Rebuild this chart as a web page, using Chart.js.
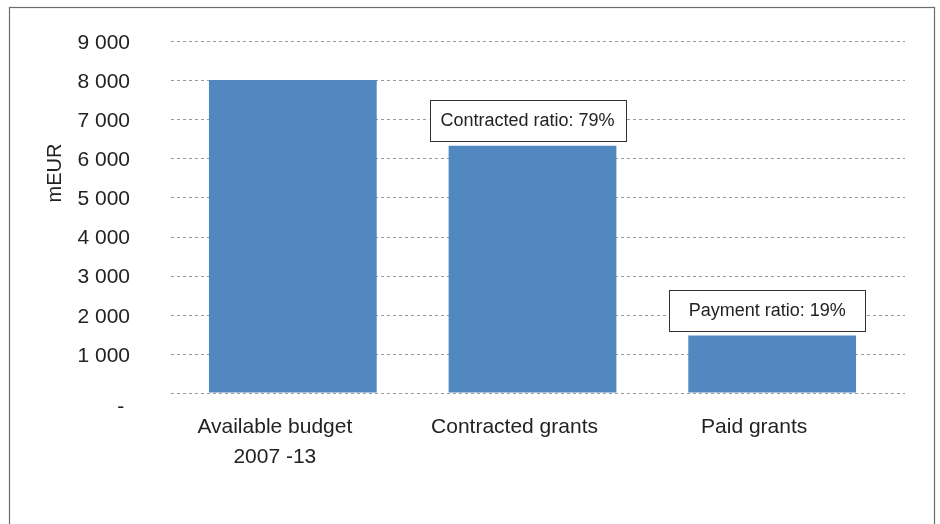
<!DOCTYPE html>
<html>
<head>
<meta charset="utf-8">
<script src="https://cdn.jsdelivr.net/npm/chart.js@4"></script>
<style>
  html, body { margin: 0; padding: 0; background: #fff; }
  #wrap { width: 940px; height: 524px; position: relative; }
</style>
</head>
<body>
<div id="wrap"><canvas id="grafico" width="940" height="524"></canvas></div>
<script>
const categorias = [["Available budget", "2007 -13"], "Contracted grants", "Paid grants"];
const valores = [8000, 6320, 1470];
const rotulosRazao = [null, "Contracted ratio: 79%", "Payment ratio: 19%"];
const tituloY = "mEUR";

const fonte = "'Liberation Sans', Arial, sans-serif";

// moldura cinza em volta do gráfico
const moldura = {
  id: "moldura",
  beforeDraw(chart) {
    const c = chart.ctx;
    c.save();
    c.fillStyle = "#fff";
    c.fillRect(0, 0, chart.width, chart.height);
    c.strokeStyle = "#6b6b6b";
    c.lineWidth = 1.2;
    c.strokeRect(9.5, 7.5, 925, 540);
    c.restore();
  }
};

// linhas de grade tracejadas (passam um pouco da área das barras, como no Excel)
const grade = {
  id: "grade",
  beforeDatasetsDraw(chart) {
    const c = chart.ctx;
    const y = chart.scales.y;
    const a = chart.chartArea;
    c.save();
    c.strokeStyle = "#9a9a9a";
    c.lineWidth = 1;
    c.setLineDash([3, 3]);
    y.ticks.forEach(t => {
      const py = Math.round(y.getPixelForValue(t.value)) + 0.5;
      c.beginPath();
      c.moveTo(a.left - 2, py);
      c.lineTo(a.right + 13, py);
      c.stroke();
    });
    c.restore();
  }
};

// caixas com as razões acima das barras + título do eixo
const caixas = {
  id: "caixas",
  afterDatasetsDraw(chart) {
    const c = chart.ctx;
    const meta = chart.getDatasetMeta(0);
    c.save();
    c.font = "18px " + fonte;
    c.textAlign = "center";
    c.textBaseline = "middle";
    rotulosRazao.forEach((txt, i) => {
      if (!txt) return;
      const bar = meta.data[i];
      const w = 196, h = 41;
      const cx = bar.x - 5;
      const y2 = bar.y - 5;
      c.fillStyle = "#fff";
      c.fillRect(cx - w / 2, y2 - h, w, h);
      c.strokeStyle = "#333";
      c.lineWidth = 1;
      c.strokeRect(Math.round(cx - w / 2) + 0.5, Math.round(y2 - h) + 0.5, w, h);
      c.fillStyle = "#222";
      c.fillText(txt, cx, y2 - h / 2 + 1);
    });

    c.translate(55, 173);
    c.rotate(-Math.PI / 2);
    c.font = "20px " + fonte;
    c.fillStyle = "#222";
    c.fillText(tituloY, 0, 0);
    c.restore();
  }
};

// zero aparece como "-" um pouco abaixo da linha (formato contábil do Excel)
function formatar(v) {
  if (v === 0) return ["", "- "];
  return v.toString().replace(/\B(?=(\d{3})+(?!\d))/g, " ");
}

new Chart(document.getElementById("grafico"), {
  type: "bar",
  data: {
    labels: categorias,
    datasets: [{
      data: valores,
      backgroundColor: "#5088bf",
      borderWidth: 0,
      categoryPercentage: 1,
      barPercentage: 0.70
    }]
  },
  options: {
    responsive: false,
    animation: false,
    devicePixelRatio: 1,
    layout: { padding: { top: 41, right: 48, left: 0, bottom: 0 } },
    plugins: { legend: { display: false }, tooltip: { enabled: false } },
    scales: {
      x: {
        afterFit: s => { s.height = 131; },
        grid: { display: false },
        border: { display: false },
        ticks: {
          color: "#222",
          padding: 11,
          labelOffset: -18,
          maxRotation: 0,
          font: { family: fonte, size: 21, lineHeight: 1.43 }
        }
      },
      y: {
        min: 0,
        max: 9000,
        afterFit: s => { s.width = 173; },
        // grade própria no plugin; aqui só o recuo dos rótulos
        grid: { color: "rgba(0,0,0,0)", drawTicks: true, tickLength: 40 },
        border: { display: false },
        ticks: {
          stepSize: 1000,
          autoSkip: false,
          padding: 3,
          labelOffset: 2,
          color: "#222",
          font: { family: fonte, size: 21 },
          callback: v => formatar(v)
        }
      }
    }
  },
  plugins: [moldura, grade, caixas]
});
</script>
</body>
</html>
